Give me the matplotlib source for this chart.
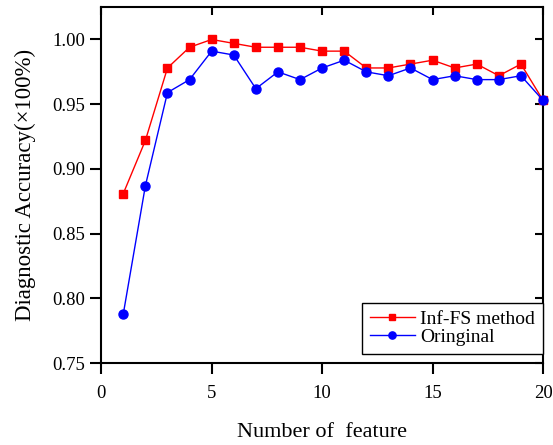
import matplotlib
matplotlib.use('Agg')
import matplotlib.pyplot as plt

plt.rcParams['font.family'] = ['Liberation Serif', 'DejaVu Serif']

# data
n_feature = list(range(1, 21))
inf_fs = [0.881, 0.922, 0.978, 0.994, 1.000, 0.997, 0.994, 0.994, 0.994, 0.991,
          0.991, 0.978, 0.978, 0.981, 0.984, 0.978, 0.981, 0.972, 0.981, 0.953]
original = [0.788, 0.887, 0.959, 0.969, 0.991, 0.988, 0.962, 0.975, 0.969, 0.978,
            0.984, 0.975, 0.972, 0.978, 0.969, 0.972, 0.969, 0.969, 0.972, 0.953]

fig = plt.figure(figsize=(5.53, 4.45), dpi=100)
ax = fig.add_axes([0.183, 0.184, 0.799, 0.800])

ax.plot(n_feature, inf_fs, color='red', marker='s', markersize=5.5, lw=1,
        label='Inf-FS method', clip_on=False, zorder=3)
ax.plot(n_feature, original, color='blue', marker='o', markersize=6.5, lw=1,
        label='Oringinal', clip_on=False, zorder=4)

ax.set_xlim(0, 20)
ax.set_ylim(0.75, 1.025)
ax.set_xticks([0, 5, 10, 15, 20])
ax.set_yticks([0.75, 0.80, 0.85, 0.90, 0.95, 1.00])
ax.set_yticklabels(['0.75', '0.80', '0.85', '0.90', '0.95', '1.00'])

for s in ax.spines.values():
    s.set_linewidth(1.5)
ax.tick_params(axis='both', labelsize=13.5, width=1.5, length=8,
               direction='out', top=True, right=True)
ax.tick_params(axis='x', pad=8)
ax.tick_params(axis='y', pad=3.5)
# top / right ticks point inwards, bottom / left outwards
for t in ax.xaxis.get_major_ticks():
    t.tick2line.set_marker(3)
    t.tick2line.set_markersize(6)
for t in ax.yaxis.get_major_ticks():
    t.tick2line.set_marker(0)
    t.tick2line.set_markersize(6)

ax.set_xlabel('Number of  feature', fontsize=16, labelpad=15)
ax.set_ylabel('Diagnostic Accuracy(×100%)', fontsize=16.5, labelpad=12)

leg = ax.legend(loc='lower right', bbox_to_anchor=(1.0, 0.027), fontsize=14,
                fancybox=False, edgecolor='black', framealpha=1, borderaxespad=0,
                handlelength=2.3, handletextpad=0.3, borderpad=0.4,
                labelspacing=0.0, markerscale=0.8)
leg.get_frame().set_linewidth(1.0)

fig.savefig('out.png', dpi=100)
